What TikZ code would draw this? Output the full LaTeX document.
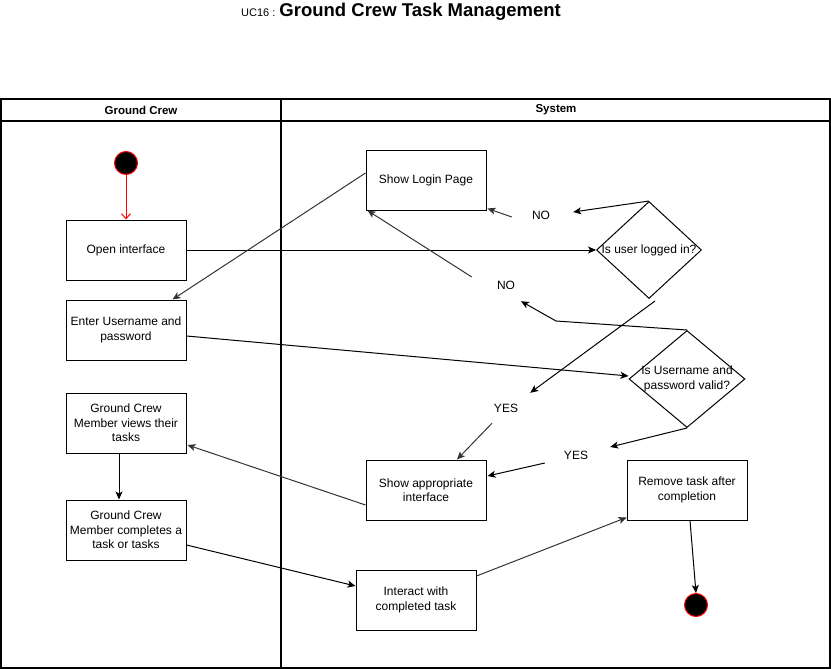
\documentclass[tikz,border=0pt]{standalone}
\usepackage{fontspec}
\setmainfont{Liberation Sans}
\usetikzlibrary{arrows.meta,calc,shapes.geometric}
\tikzset{
  box/.style={draw,line width=1pt,minimum width=120pt,minimum height=60pt,inner sep=3pt,align=center,font=\fontsize{12}{14.5}\selectfont},
  dec/.style={draw,diamond,line width=1pt,minimum width=#1,minimum height=97pt,inner sep=0pt},
  dtext/.style={align=center,inner sep=0pt,font=\fontsize{12}{14.5}\selectfont},
  lbl/.style={minimum width=64pt,minimum height=30pt,inner sep=0pt,font=\fontsize{12}{14}\selectfont},
  flow/.style={line width=1pt,draw=black,-{Stealth[length=8pt,width=7pt,inset=2pt]}},
  gflow/.style={flow,draw=black!80},
  dot/.style={circle,fill=black,draw=red,line width=1pt,minimum size=23pt,inner sep=0pt},
  lane/.style={draw=black,line width=1.2pt},
  hdr/.style={font=\fontsize{11.5}{13}\selectfont\bfseries}
}
\begin{document}
\begin{tikzpicture}[x=1pt,y=-1pt]
\useasboundingbox (0,0) rectangle (831,669);
% title
\node[anchor=base,inner sep=0pt] (title) at (401,17) {{\fontsize{11}{13}\selectfont UC16 : }{\fontsize{18.5}{22}\selectfont\bfseries Ground Crew Task Management}};
% swimlanes
\draw[lane] (1,99) rectangle (830,668);
\draw[lane] (1,121) -- (830,121);
\draw[lane] (281,99) -- (281,668);
\node[hdr] (h1) at (141,110) {Ground Crew};
\node[hdr] (h2) at (556,110) {System};
% nodes
\node[dot] (start) at (126,163) {};
\node[box] (open) at (126,250) {Open interface};
\node[box] (enter) at (126,330) {Enter Username and\\password};
\node[box] (views) at (126,423) {Ground Crew\\Member views their\\tasks};
\node[box] (completes) at (126,530) {Ground Crew\\Member completes a\\task or tasks};
\node[box] (login) at (426,180) {Show Login Page};
\node[box] (approp) at (426,490) {Show appropriate\\interface};
\node[box] (interact) at (416,600) {Interact with\\completed task};
\node[box] (remove) at (687,490) {Remove task after\\completion};
\node[dot] (end) at (696,605) {};
\node[dec=105pt] (d1) at (649,250) {};
\node[dtext] (d1t) at (649,250) {Is user logged in?};
\node[dec=116pt] (d2) at (687,379) {};
\node[dtext] (d2t) at (687,379) {Is Username and\\password valid?};
\node[lbl] (no1) at (541,215) {NO};
\node[lbl] (no2) at (506,285) {NO};
\node[lbl] (yes1) at (506,408) {YES};
\node[lbl] (yes2) at (576,455) {YES};
% edges
\draw[line width=1pt,draw=red,-{Straight Barb[length=5pt,width=9pt,line width=1pt]}] (start.south) -- (open.north);
\draw[flow] (open.east) -- (d1.west);
\draw[flow] (d1.north) -- ($(no1.east)+(0,-3)$);
\draw[gflow] ($(no1.west)+(3,2)$) -- ($(login.south east)+(1,-2)$);
\draw[flow] (d2.north) -- (556,321) -- ($(no2.south)+(15,1)$);
\draw[gflow] ($(no2.west)+(-2,-8)$) -- ($(login.south west)+(2,0)$);
\draw[flow] ($(d1.south)+(6,2)$) -- ($(yes1.north east)+(-8,0)$);
\draw[gflow] ($(yes1.south)+(-14,0)$) -- ($(approp.north)+(31,0)$);
\draw[flow] (d2.south) -- ($(yes2.east)+(2,-8)$);
\draw[flow] ($(yes2.west)+(1,8)$) -- ($(approp.east)+(1,-14)$);
\draw[gflow] ($(login.west)+(0,-7)$) -- ($(enter.north east)+(-14,0)$);
\draw[flow] ($(enter.east)+(0,6)$) -- ($(d2.west)+(0,-3)$);
\draw[gflow] ($(approp.west)+(0,15)$) -- ($(views.east)+(1,22)$);
\draw[flow] ($(views.south)+(-7,0)$) -- ($(completes.north)+(-7,0)$);
\draw[flow] ($(completes.east)+(0,15)$) -- ($(interact.west)+(0,-14)$);
\draw[gflow] ($(interact.east)+(0,-24)$) -- ($(remove.south west)+(0,-3)$);
\draw[flow] ($(remove.south)+(3,0)$) -- (end.north);
\end{tikzpicture}
\end{document}
